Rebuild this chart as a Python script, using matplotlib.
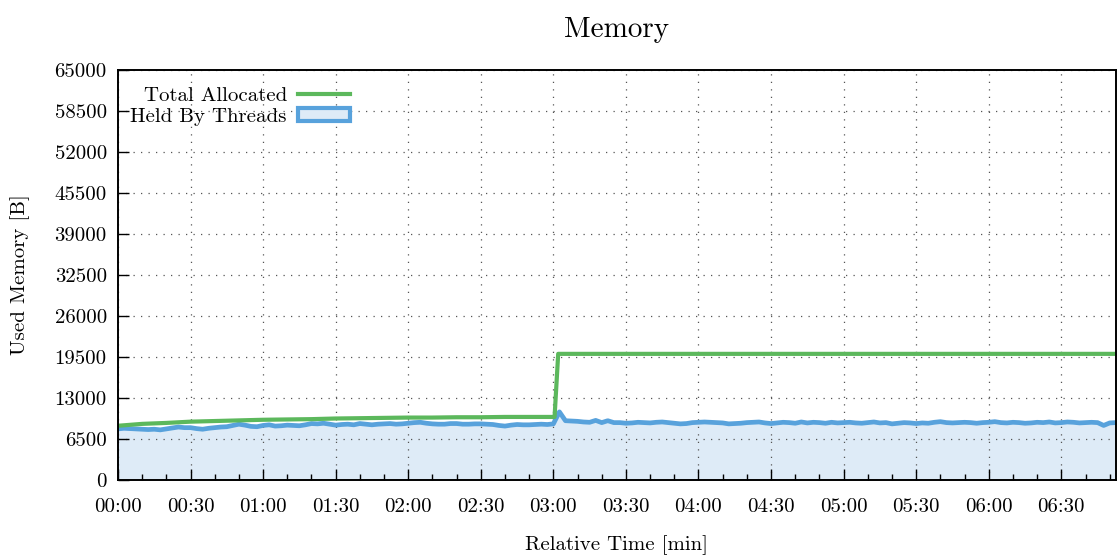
import matplotlib
matplotlib.use("Agg")
import matplotlib.pyplot as plt
from matplotlib.ticker import MultipleLocator, FuncFormatter
from matplotlib.patches import Patch
from matplotlib.lines import Line2D

plt.rcParams['font.family'] = 'serif'
plt.rcParams['font.serif'] = ['cmr10', 'DejaVu Serif']
plt.rcParams['axes.unicode_minus'] = False
plt.rcParams['mathtext.fontset'] = 'cm'

# Memory held by threads [B], sampled every 2.5 s
held_b = [
    # 00:00 - 03:00
    8100, 8200, 8150, 8100, 8050, 8000, 8050, 7950, 8100, 8250, 8400, 8300,
    8300, 8150, 8050, 8200, 8300, 8400, 8450, 8650, 8850, 8700, 8500, 8450,
    8650, 8750, 8550, 8600, 8700, 8650, 8600, 8750, 8950, 8900, 9000, 8850,
    8700, 8800, 8850, 8750, 8950, 8850, 8750, 8850, 8900, 8950, 8850, 8900,
    9000, 9100, 9150, 9000, 8900, 8850, 8850, 8950, 8950, 8850, 8850, 8900,
    8900, 8850, 8800, 8650, 8550, 8700, 8800, 8750, 8750, 8800, 8850, 8800,
    8900,
    # 03:02.5 - 03:25
    10800, 9400, 9350, 9300, 9200, 9150, 9450, 9100, 9400, 9100,
    # 03:27.5 - 06:52.5
    9100, 9000, 9050, 9150, 9100, 9050, 9150, 9200, 9100, 9000,
    8900, 8950, 9100, 9150, 9200, 9150, 9100, 9050, 8900, 8950,
    9000, 9100, 9150, 9200, 9050, 8950, 9050, 9150, 9100, 9000,
    9200, 9050, 9150, 9100, 9000, 9150, 9050, 9100, 9150, 9050,
    9000, 9100, 9200, 9050, 9100, 8900, 9000, 9100, 9050, 8950,
    9050, 9000, 9150, 9250, 9100, 9050, 9100, 9150, 9100, 9000,
    9100, 9150, 9250, 9100, 9050, 9150, 9100, 9000, 9050, 9150,
    9100, 9200, 9050, 9100, 9200, 9150, 9050, 9100, 9150, 9100,
    8650, 9050, 9100,
]
held_t = [2.5 * i for i in range(len(held_b))]

# Total allocated memory [B]
total_t = [0, 10, 20, 30, 40, 50, 60, 70, 80, 90, 100, 110, 120, 130, 140,
           150, 160, 170, 180.5, 182, 412.5]
total_b = [8600, 8900, 9050, 9250, 9350, 9450, 9550, 9600, 9650, 9750, 9800,
           9850, 9900, 9900, 9950, 9950, 10000, 10000, 10000, 20000, 20000]

y_ticks = [0, 6500, 13000, 19500, 26000, 32500, 39000, 45500, 52000, 58500, 65000]

green = '#5cb85c'
blue = '#58a2dc'
fill = '#deebf7'

fig = plt.figure(figsize=(11.18, 5.59), dpi=100)
ax = fig.add_axes([0.1055, 0.1413, 0.8925, 0.7335])

ax.fill_between(held_t, held_b, 0, color=fill, lw=0, zorder=1)
ax.plot(held_t, held_b, color=blue, lw=3.4, zorder=3)
ax.plot(total_t, total_b, color=green, lw=3.0, zorder=4)

ax.set_xlim(0, 412.5)
ax.set_ylim(0, 65000)
ax.set_yticks(y_ticks)
ax.set_yticklabels([str(v) for v in y_ticks])
ax.xaxis.set_major_locator(MultipleLocator(30))
ax.xaxis.set_minor_locator(MultipleLocator(10))
ax.xaxis.set_major_formatter(FuncFormatter(lambda v, p: f"{int(v)//60:02d}:{int(v)%60:02d}"))

ax.tick_params(axis='both', which='major', direction='in', length=8, width=1,
               labelsize=15)
ax.tick_params(axis='x', which='major', pad=13)
ax.tick_params(axis='y', which='major', pad=8)
ax.tick_params(axis='x', which='minor', direction='in', length=4, width=1)
ax.tick_params(top=False, right=False)

ax.grid(True, which='major', color='#555555', linestyle=(0, (1, 5)), lw=0.9, zorder=2)
ax.set_axisbelow(False)
for s in ax.spines.values():
    s.set_linewidth(1.4)
    s.set_zorder(5)

ax.set_title('Memory', fontsize=21, pad=24)
ax.set_xlabel('Relative Time [min]', fontsize=15, va='center')
ax.xaxis.set_label_coords(0.5, -0.1585)
ax.set_ylabel('Used Memory [B]', fontsize=15, va='center')
ax.yaxis.set_label_coords(-0.098, 0.5)

handles = [Line2D([0], [0], color=green, lw=3),
           Patch(facecolor=fill, edgecolor=blue, lw=3)]
leg = ax.legend(handles, ['Total Allocated', 'Held By Threads'], loc='upper left',
                frameon=False, markerfirst=False, fontsize=15, handlelength=2.5,
                handleheight=0.6, labelspacing=0.15, borderaxespad=0.2,
                handletextpad=0.55, bbox_to_anchor=(0.0, 0.99))
leg.set_zorder(6)

fig.savefig('out.png', dpi=100)
